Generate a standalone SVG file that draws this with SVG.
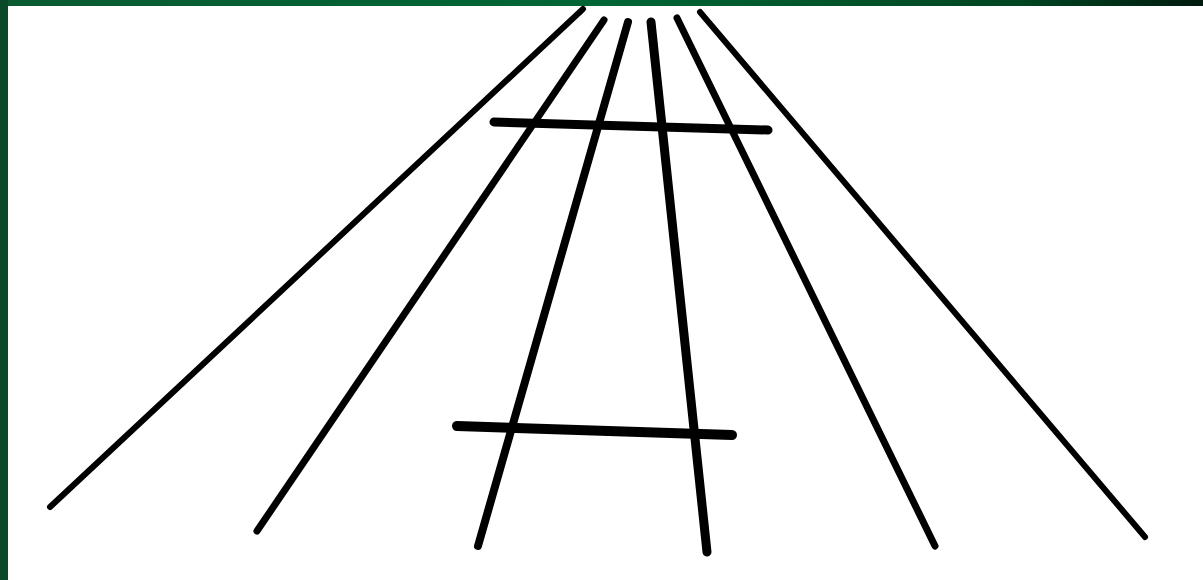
<svg xmlns="http://www.w3.org/2000/svg" width="1203" height="580" viewBox="0 0 1203 580">
<defs>
<linearGradient id="bar" x1="0" y1="0" x2="1" y2="0">
<stop offset="0" stop-color="#0a5a30"/>
<stop offset="0.5" stop-color="#006633"/>
<stop offset="0.85" stop-color="#004422"/>
<stop offset="1" stop-color="#001a0e"/>
</linearGradient>
<style>
.ln{stroke:#000;stroke-linecap:round;fill:none}
</style>
</defs>
<rect x="0" y="0" width="1203" height="580" fill="#ffffff"/>
<rect x="0" y="0" width="1203" height="6" fill="url(#bar)"/>
<rect x="0" y="0" width="8" height="580" fill="#0a4a28"/>
<g id="connectors">
<line class="ln" x1="583" y1="9" x2="50" y2="507" stroke-width="6"/>
<line class="ln" x1="604" y1="20" x2="257" y2="531" stroke-width="7"/>
<line class="ln" x1="628" y1="22" x2="478" y2="546" stroke-width="8"/>
<line class="ln" x1="651" y1="22" x2="707" y2="552" stroke-width="9"/>
<line class="ln" x1="677" y1="18" x2="935" y2="546" stroke-width="7"/>
<line class="ln" x1="700" y1="12" x2="1145" y2="537" stroke-width="6"/>
<line class="ln" x1="494" y1="122" x2="768" y2="130" stroke-width="9"/>
<line class="ln" x1="457" y1="426" x2="732" y2="435" stroke-width="10"/>
</g>
</svg>
